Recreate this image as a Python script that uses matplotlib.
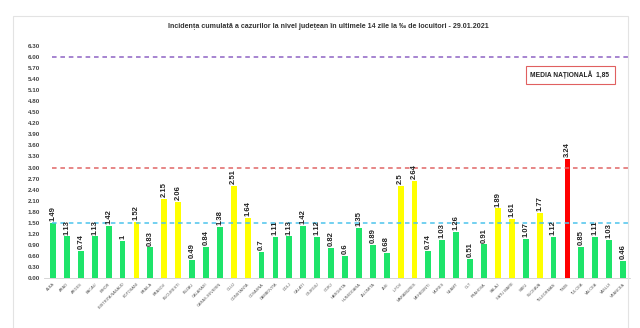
import matplotlib
matplotlib.use("Agg")
import matplotlib.pyplot as plt
from matplotlib.patches import Rectangle

plt.rcParams['font.family'] = ['Liberation Sans Narrow', 'Liberation Sans', 'DejaVu Sans']

judete = ["ALBA", "ARAD", "ARGES", "BACAU", "BIHOR", "BISTRITA NASAUD", "BOTOSANI",
          "BRAILA", "BRASOV", "BUCURESTI", "BUZAU", "CALARASI", "CARAS-SEVERIN", "CLUJ",
          "CONSTANTA", "COVASNA", "DAMBOVITA", "DOLJ", "GALATI", "GIURGIU", "GORJ",
          "HARGHITA", "HUNEDOARA", "IALOMITA", "IASI", "ILFOV", "MARAMURES", "MEHEDINTI",
          "MURES", "NEAMT", "OLT", "PRAHOVA", "SALAJ", "SATU MARE", "SIBIU", "SUCEAVA",
          "TELEORMAN", "TIMIS", "TULCEA", "VALCEA", "VASLUI", "VRANCEA"]
incidenta = [1.49, 1.13, 0.74, 1.13, 1.42, 1, 1.52, 0.83, 2.15, 2.06, 0.49, 0.84, 1.38,
             2.51, 1.64, 0.7, 1.11, 1.13, 1.42, 1.12, 0.82, 0.6, 1.35, 0.89, 0.68, 2.5,
             2.64, 0.74, 1.03, 1.26, 0.51, 0.91, 1.89, 1.61, 1.07, 1.77, 1.12, 3.24, 0.85,
             1.11, 1.03, 0.46]
praguri = [6.0, 3.0, 1.5]
culori_prag = ['#8e63c4', '#e06666', '#4cc4ec']
media = "1,85"
yticks = [i * 0.3 for i in range(22)]

def culoare(v):
    if v > 3:
        return '#ff0000'
    if v >= 1.5:
        return '#ffff00'
    return '#1ee46a'

W, H = 640, 328
fig = plt.figure(figsize=(6.4, 3.28), dpi=100)
fig.patches.append(Rectangle((13 / W, -0.1), (628 - 13) / W, 1.1 - 16 / H,
                             transform=fig.transFigure, fill=False,
                             edgecolor='#e3e3e3', linewidth=0.8))

ax = fig.add_axes([44 / W, 50 / H, (630 - 44) / W, 232 / H])
x = list(range(len(judete)))
ax.bar(x, incidenta, width=0.42, color=[culoare(v) for v in incidenta])
for xi, v in zip(x, incidenta):
    ax.text(xi, v + 0.05, f"{v:g}", rotation=90, ha='center', va='bottom',
            fontsize=5.5, fontweight='bold', color='#222222')

for y, c in zip(praguri, culori_prag):
    ax.hlines(y, -0.1, 41.4, colors=c, linestyles=(0, (3, 2.5)), linewidth=1.1)

ax.set_xlim(-0.65, 41.5)
ax.set_ylim(0, 6.3)
ax.set_yticks(yticks)
ax.set_yticklabels([f"{t:.2f}" for t in yticks], fontsize=4.5, fontweight='bold', color='#444444')
ax.set_xticks(x)
ax.set_xticklabels(judete, rotation=45, ha='right', rotation_mode='anchor',
                   fontsize=2.8, color='#555555')
ax.tick_params(length=0, pad=3)
for s in ['top', 'right', 'left']:
    ax.spines[s].set_visible(False)
ax.spines['bottom'].set_color('#d0d0d0')
ax.spines['bottom'].set_linewidth(0.6)

fig.text(328 / W, 1 - 26 / H,
         "Incidența cumulată a cazurilor la nivel județean în ultimele 14 zile la ‰ de locuitori - 29.01.2021",
         ha='center', va='center', fontsize=5.1, fontweight='bold', color='#333333')

fig.text(570 / W, 1 - 75 / H, f"MEDIA NAȚIONALĂ  {media}", ha='center', va='center',
         fontsize=4.8, fontweight='bold', color='#222222',
         bbox=dict(boxstyle='square,pad=0.75', facecolor='white', edgecolor='#e06060', linewidth=0.8))

fig.savefig("out.png", dpi=100)
